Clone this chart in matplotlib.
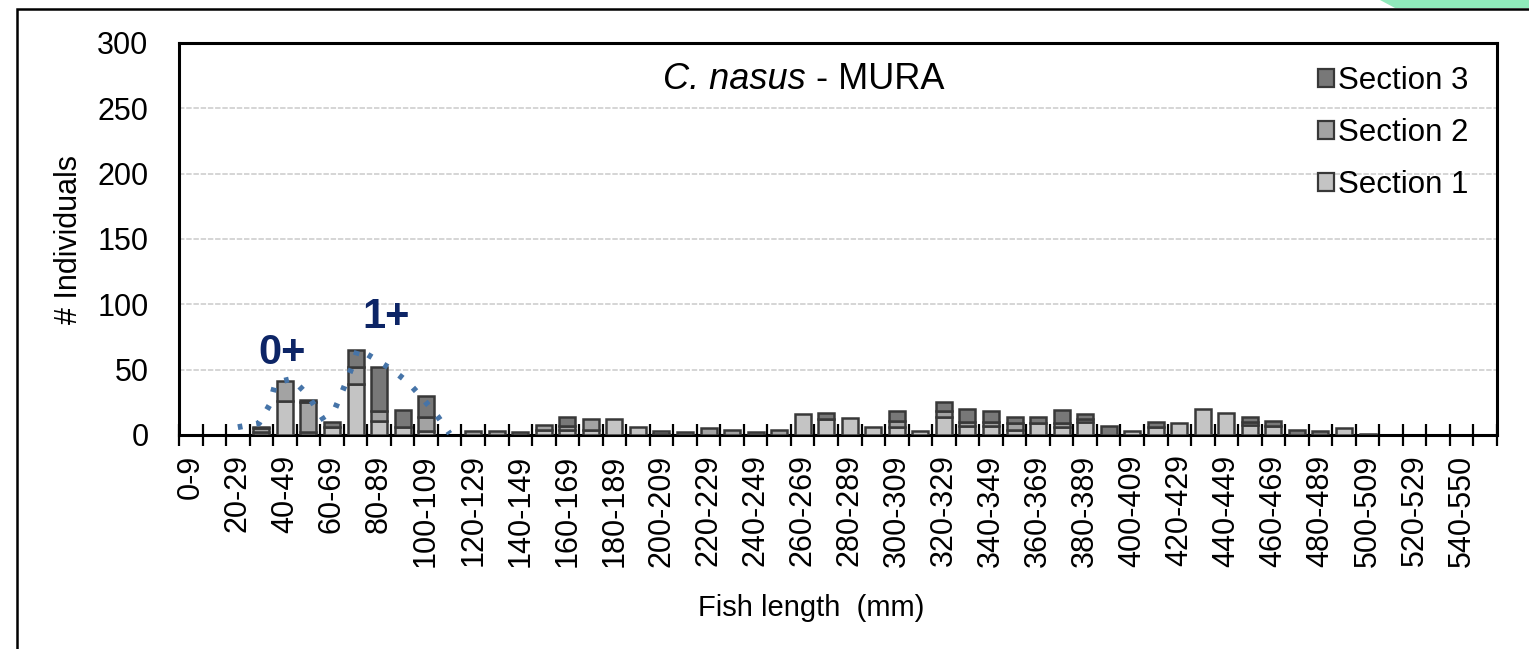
import numpy as np
import matplotlib
matplotlib.use("Agg")
from matplotlib import pyplot as plt
from matplotlib.patches import Rectangle, Polygon

# Arial-like font everywhere
plt.rcParams["font.family"] = "Liberation Sans"

# Length classes (mm), one slot per 10 mm, the last slot on the axis is empty
length_classes = ["%d-%d" % (lo, lo + 9) for lo in range(0, 540, 10)] + ["540-550"]

# Number of individuals per length class for each river section
section_1 = [0, 0, 0, 2, 26, 2, 6, 39, 11, 6, 3, 0, 0, 0, 0, 4, 4, 4, 12, 6,
             1, 0, 0, 0, 0, 0, 16, 12, 13, 6, 6, 3, 14, 7, 7, 4, 9, 6, 10, 0,
             3, 6, 9, 20, 17, 8, 7, 0, 0, 5, 0, 0, 0, 0, 0]
section_2 = [0, 0, 0, 3, 15, 23, 0, 13, 7, 0, 11, 0, 3, 3, 0, 4, 3, 8, 0, 0,
             2, 0, 5, 4, 0, 4, 0, 0, 0, 0, 5, 0, 4, 3, 3, 5, 0, 3, 2, 0,
             0, 0, 0, 0, 0, 2, 0, 0, 0, 0, 0, 0, 0, 0, 0]
section_3 = [0, 0, 0, 1, 0, 2, 4, 13, 34, 13, 16, 0, 0, 0, 2, 0, 7, 0, 0, 0,
             0, 2, 0, 0, 2, 0, 0, 5, 0, 0, 7, 0, 7, 10, 8, 5, 5, 10, 4, 7,
             0, 4, 0, 0, 0, 4, 4, 4, 3, 0, 1, 0, 0, 0, 0]

# Cohort curves (class position, individuals) for the 0+ and 1+ groups
cohort_0_x = [2.0, 2.9, 3.35, 3.6, 4.3, 4.95, 5.45, 5.85, 6.0]
cohort_0_y = [6, 9, 23, 40, 43, 31, 17, 6, 3]
cohort_1_x = [6.15, 6.5, 6.85, 7.1, 7.75, 8.55, 9.25, 9.9, 10.5, 11.0]
cohort_1_y = [21, 36, 52, 66, 59, 50, 40, 27, 14, 1]

colors = {"Section 1": "#c4c4c4", "Section 2": "#a3a3a3", "Section 3": "#787878"}
edge_col = "#383838"

fig = plt.figure(figsize=(15.29, 6.49), dpi=100)
ax = fig.add_axes([179 / 1529, 214 / 649, 1318 / 1529, 392 / 649])

x = np.arange(len(length_classes))
s1 = np.array(section_1)
s2 = np.array(section_2)
s3 = np.array(section_3)

# Stacked bars, skipping empty segments so no outline shows at zero
bar_w = 0.68
for vals, base, name in [(s1, 0 * s1, "Section 1"),
                         (s2, s1, "Section 2"),
                         (s3, s1 + s2, "Section 3")]:
    m = vals > 0
    ax.bar(x[m], vals[m], bottom=base[m], width=bar_w, color=colors[name],
           edgecolor=edge_col, linewidth=1.8, zorder=3)

# Dotted cohort curves
for cx, cy in [(cohort_0_x, cohort_0_y), (cohort_1_x, cohort_1_y)]:
    ax.plot(cx, cy, color="#4674a8", linewidth=4.2,
            linestyle=(0, (0.8, 2.4)), zorder=4)

ax.text(3.9, 63, "0+", fontsize=30, fontweight="bold", color="#0d2566",
        ha="center", va="center", zorder=5)
ax.text(8.3, 90, "1+", fontsize=30, fontweight="bold", color="#0d2566",
        ha="center", va="center", zorder=5)

# Axes limits, grid and ticks
ax.set_xlim(-0.5, len(length_classes) + 0.5)
ax.set_ylim(0, 300)
ax.set_yticks(np.arange(0, 301, 50))
ax.yaxis.grid(True, color="#d2d2d2", linewidth=1.3, linestyle=(0, (3, 1)))
ax.set_axisbelow(True)
ax.tick_params(axis="y", length=0, pad=22, labelsize=22)

ax.set_xticks(np.arange(-0.5, len(length_classes) + 1, 1))
ax.set_xticklabels([])
ax.tick_params(axis="x", which="major", direction="inout", length=16,
               width=1.6)
ax.set_xticks(x[::2], minor=True)
ax.set_xticklabels(length_classes[::2], minor=True, rotation=90,
                   fontsize=22)
ax.tick_params(axis="x", which="minor", length=0, pad=14)

for sp in ax.spines.values():
    sp.set_linewidth(2.2)
    sp.set_color("black")

ax.set_ylabel("# Individuals", fontsize=22)
ax.yaxis.set_label_coords(-95 / 1318, 0.5)
fig.text(811 / 1529, 1 - 608 / 649, "Fish length  (mm)", fontsize=21,
         ha="center", va="center")

# Title: italic species name, then the river
title_x = (806 - 179) / 1318
ax.text(title_x, 0.906, "C. nasus", transform=ax.transAxes, fontsize=26,
        style="italic", ha="right", va="center")
ax.text(title_x, 0.906, " - MURA", transform=ax.transAxes, fontsize=26,
        ha="left", va="center")

# Legend, top series first
handles = [Rectangle((0, 0), 1, 1, facecolor=colors[n], edgecolor=edge_col,
                     linewidth=1.6) for n in ["Section 3", "Section 2", "Section 1"]]
ax.legend(handles, ["Section 3", "Section 2", "Section 1"], loc="upper right",
          bbox_to_anchor=(1.0, 1.012), frameon=False, fontsize=22.5,
          handlelength=0.5, handleheight=0.5, handletextpad=0.15,
          labelspacing=0.7)

# Slide frame and accent band
fig.add_artist(Rectangle((17 / 1529, -0.05), 1.1, 1 - 9 / 649 + 0.05,
                         transform=fig.transFigure, fill=False,
                         edgecolor="black", linewidth=1.8))
fig.add_artist(Polygon([(1380 / 1529, 1), (1, 1), (1, 1 - 8 / 649),
                        (1395 / 1529, 1 - 8 / 649)],
                       transform=fig.transFigure, facecolor="#90eabb",
                       edgecolor="none"))

fig.savefig("out.png", dpi=100)
